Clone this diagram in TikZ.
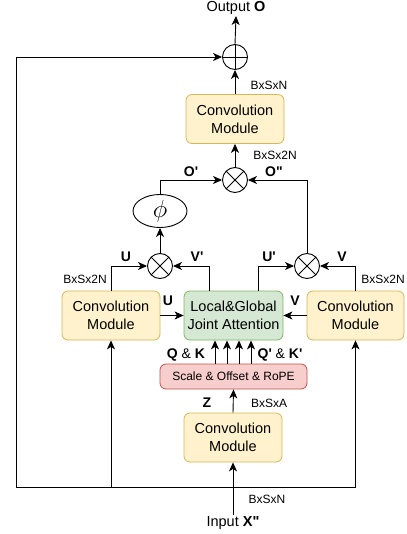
\documentclass[tikz,border=0pt]{standalone}
\usepackage{fontspec}
\setmainfont{Liberation Sans}[Ligatures=TeXOff]
\usetikzlibrary{shapes.geometric,arrows.meta,positioning}
\definecolor{convfill}{HTML}{FFF2CC}
\definecolor{convline}{HTML}{D6B656}
\definecolor{attfill}{HTML}{D5E8D4}
\definecolor{attline}{HTML}{82B366}
\definecolor{ropefill}{HTML}{F8CECC}
\definecolor{ropeline}{HTML}{B85450}
\newcommand\dimtxt[1]{{\fontsize{12}{14}\selectfont #1}}
\begin{document}
\begin{tikzpicture}[->,>={Stealth[length=9pt,width=8pt,inset=2.5pt]}, x=1pt, y=-1pt, line width=0.9pt,
	block/.style={rectangle, rounded corners=6pt, draw, line width=0.8pt, align=center, inner sep=0pt, minimum height=49pt, font=\fontsize{14.5}{18}\selectfont},
	convbox/.style={block, fill=convfill, draw=convline, minimum width=98pt},
	attbox/.style={block, fill=attfill, draw=attline, minimum width=99pt},
	ropebox/.style={block, fill=ropefill, draw=ropeline, minimum width=147pt, minimum height=25pt, font=\fontsize{12}{14}\selectfont},
	opcirc/.style={circle, draw, fill=white, minimum size=25pt, inner sep=0pt},
	addop/.style={opcirc, path picture={\draw[-] (path picture bounding box.north) -- (path picture bounding box.south) (path picture bounding box.west) -- (path picture bounding box.east);}},
	mulop/.style={opcirc, path picture={\draw[-] (path picture bounding box.north west) -- (path picture bounding box.south east) (path picture bounding box.south west) -- (path picture bounding box.north east);}},
	lbl/.style={inner sep=1pt, font=\fontsize{14}{16}\selectfont\bfseries},
	dim/.style={inner sep=1pt, font=\fontsize{12}{14}\selectfont}]
\useasboundingbox (0,0) rectangle (406,534);

\node[inner sep=1pt, font=\fontsize{14.5}{16}\selectfont] (out) at (236,8) {Output \textbf{O}};
\node[addop] (plus) at (235,57) {};
\node[convbox] (convT) at (235,119) {Convolution\\Module};
\node[mulop] (mulO) at (235,180) {};
\node[ellipse, draw, minimum width=54pt, minimum height=33pt, inner sep=0pt] (phi) at (160,211) {\fontsize{23}{23}\selectfont$\phi$};
\node[mulop] (mulL) at (160,266) {};
\node[mulop] (mulR) at (307,266) {};
\node[convbox] (convL) at (111,315.5) {Convolution\\Module};
\node[attbox] (att) at (233.5,315.5) {Local\&Global\\Joint Attention};
\node[convbox, minimum width=97pt] (convR) at (355.5,315.5) {Convolution\\Module};
\node[ropebox] (rope) at (233.5,376.5) {Scale \& Offset \& RoPE};
\node[convbox] (convB) at (233,437.5) {Convolution\\Module};
\node[inner sep=1pt, font=\fontsize{14.5}{16}\selectfont] (inp) at (233,523) {Input \textbf{X"}};

\node[dim] (dO) at (269,85) {BxSxN};
\node[dim] (dO2) at (275,155) {BxSx2N};
\node[dim] (dL) at (85,279) {BxSx2N};
\node[dim] (dR) at (383,279) {BxSx2N};
\node[dim] (dZ) at (269,403) {BxSxA};
\node[dim] (dX) at (267,499) {BxSxN};
\node[lbl] (lO1) at (191,172) {O'};
\node[lbl] (lO2) at (274,172) {O"};
\node[lbl] (lU1) at (126,257) {U};
\node[lbl] (lV1) at (197,257) {V'};
\node[lbl] (lU2) at (269,257) {U'};
\node[lbl] (lV2) at (342,257) {V};
\node[lbl] (lU3) at (168,301) {U};
\node[lbl] (lV3) at (295,301) {V};
\node[lbl] (lQK) at (186,355) {Q \textmd{\&} K};
\node[lbl] (lQK2) at (280,355) {Q' \textmd{\&} K'};
\node[lbl] (lZ) at (207,403) {Z};

\coordinate (bl) at (16,487);
\coordinate (br) at (convR.south |- bl);

\draw (plus.north) -- (out.south);
\draw (convT.north) -- (plus.south);
\draw (mulO.north) -- (convT.south);
\draw (phi.north) |- (mulO.west);
\draw (mulR.north) |- (mulO.east);
\draw (mulL.north) -- (phi.south);
\draw (convL.north) |- (mulL.west);
\draw ([xshift=-24.5pt]att.north) |- (mulL.east);
\draw ([xshift=24.5pt]att.north) |- (mulR.west);
\draw (convR.north) |- (mulR.east);
\draw (convL.east) -- (att.west);
\draw (convR.west) -- (att.east);
\draw ([xshift=-18.5pt]rope.north) -- ([xshift=-18.5pt]att.south);
\draw ([xshift=-6.5pt]rope.north) -- ([xshift=-6.5pt]att.south);
\draw ([xshift=5.5pt]rope.north) -- ([xshift=5.5pt]att.south);
\draw ([xshift=17.5pt]rope.north) -- ([xshift=17.5pt]att.south);
\draw (convB.north) -- (rope.south);
\draw (inp.north) -- (convB.south);
\draw[-] (bl) -- (br);
\draw (bl) |- (plus.west);
\draw (convL.south |- bl) -- (convL.south);
\draw (br) -- (convR.south);
\end{tikzpicture}
\end{document}
